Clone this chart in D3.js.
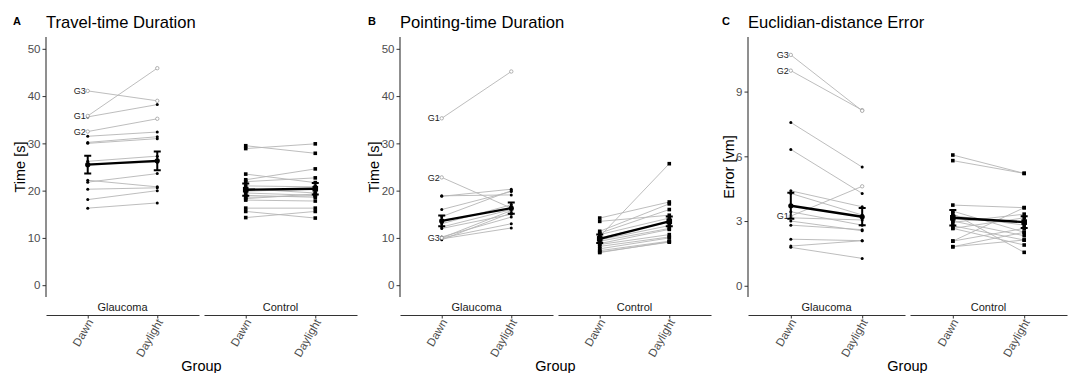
<!DOCTYPE html>
<html>
<head>
<meta charset="utf-8">
<script src="https://cdn.jsdelivr.net/npm/d3@7"></script>
<style>
  body { margin: 0; background: #fff; }
  text { font-family: "Liberation Sans", Arial, sans-serif; }
</style>
</head>
<body>
<svg id="chart" width="1072" height="373"></svg>
<script>
const conditions = ["Dawn", "Daylight"];
const groups = ["Glaucoma", "Control"];
const gLabels = ["G1", "G2", "G3"];

// [dawn, daylight] per subject
const travelLabelled = [[35.8, 45.9], [32.5, 35.2], [41.1, 39.0]];
const travelGlaucoma = [[35.6, 38.2], [31.5, 32.4], [30.2, 31.4], [30.0, 31.0], [26.2, 27.3], [25.6, 26.0],
  [22.2, 20.8], [21.8, 23.6], [20.3, 20.6], [18.1, 20.0], [16.3, 17.4]];
const travelControl = [[29.5, 27.9], [28.9, 29.9], [23.5, 21.7], [22.3, 24.6], [21.9, 22.7], [21.0, 20.8],
  [20.4, 19.5], [19.9, 20.3], [19.5, 19.0], [19.0, 18.6], [18.6, 18.9], [18.3, 19.3], [18.0, 17.8],
  [16.3, 16.3], [15.6, 14.2], [14.3, 15.6]];
const travelMeanG = [25.5, 26.3], travelErrG = [1.9, 2.0];
const travelMeanC = [20.2, 20.4], travelErrC = [1.3, 1.2];

const pointLabelled = [[35.3, 45.2], [22.8, 16.3], [10.0, 15.8]];
const pointGlaucoma = [[18.9, 19.1], [18.8, 20.3], [16.0, 19.8], [14.5, 20.0], [13.0, 17.0], [12.3, 16.0],
  [12.0, 15.0], [10.2, 14.4], [10.0, 13.0], [9.8, 12.1], [9.6, 15.3]];
const pointControl = [[10.3, 25.7], [14.2, 17.6], [13.5, 14.8], [11.4, 17.2], [11.0, 16.0], [10.7, 14.2],
  [10.0, 13.4], [9.6, 12.6], [9.3, 12.0], [8.8, 11.8], [8.6, 10.7], [8.2, 10.2], [7.7, 10.0],
  [7.3, 9.3], [7.0, 9.1], [6.9, 9.2]];
const pointMeanG = [13.6, 16.3], pointErrG = [1.15, 1.2];
const pointMeanC = [9.8, 13.5], pointErrC = [0.9, 1.05];

const errorLabelled = [[3.23, 4.61], [9.97, 8.14], [10.70, 8.11]];
const errorGlaucoma = [[7.57, 5.50], [6.32, 4.28], [4.40, 3.66], [4.28, 3.28], [3.43, 2.81], [3.15, 3.05],
  [3.00, 2.55], [2.81, 2.60], [2.16, 2.09], [1.84, 2.09], [1.78, 1.27]];
const errorControl = [[6.06, 5.21], [5.80, 5.21], [3.74, 3.62], [3.46, 2.48], [3.35, 1.55], [3.25, 2.81],
  [3.12, 2.94], [3.00, 2.32], [2.94, 3.32], [2.78, 2.12], [2.66, 1.89], [2.66, 3.15], [2.07, 3.62],
  [2.07, 2.66], [1.81, 2.12], [1.81, 2.48]];
const errorMeanG = [3.71, 3.20], errorErrG = [0.6, 0.4];
const errorMeanC = [3.15, 2.95], errorErrC = [0.36, 0.27];

const timeTicks = [0, 10, 20, 30, 40, 50];
const errorTicks = [0, 3, 6, 9];

const panels = [
  { tag: "A", title: "Travel-time Duration", yTitle: "Time [s]", left: 46, facetW: 153, gap: 5, tagX: 13, yTitleX: 24.5,
    domain: [-2.5, 52.5], ticks: timeTicks, labelled: travelLabelled, glaucoma: travelGlaucoma, control: travelControl,
    meanG: travelMeanG, errG: travelErrG, meanC: travelMeanC, errC: travelErrC },
  { tag: "B", title: "Pointing-time Duration", yTitle: "Time [s]", left: 400, facetW: 153, gap: 5, tagX: 368, yTitleX: 379,
    domain: [-2.5, 52.5], ticks: timeTicks, labelled: pointLabelled, glaucoma: pointGlaucoma, control: pointControl,
    meanG: pointMeanG, errG: pointErrG, meanC: pointMeanC, errC: pointErrC },
  { tag: "C", title: "Euclidian-distance Error", yTitle: "Error [vm]", left: 748, facetW: 157, gap: 5, tagX: 722, yTitleX: 733.5,
    domain: [-0.52, 11.53], ticks: errorTicks, labelled: errorLabelled, glaucoma: errorGlaucoma, control: errorControl,
    meanG: errorMeanG, errG: errorErrG, meanC: errorMeanC, errC: errorErrC }
];

const svg = d3.select("#chart");
const plotTop = 37, plotBottom = 297, axisY = 315;
const axisColor = "#333";
const textGrey = "#4d4d4d";
const lineGrey = "#b5b5b5";

panels.forEach(p => {
  const g = svg.append("g");
  const yScale = d3.scaleLinear().domain(p.domain).range([plotBottom, plotTop]);
  const facetX = groups.map((grp, i) => {
    const x0 = p.left + i * (p.facetW + p.gap);
    return d3.scalePoint().domain(conditions).range([x0, x0 + p.facetW]).padding(0.6);
  });

  // tag + title
  g.append("text").attr("x", p.tagX).attr("y", 25).attr("font-size", "11px").attr("font-weight", "bold")
    .attr("fill", "#000").text(p.tag);
  g.append("text").attr("x", p.left).attr("y", 28).attr("font-size", "16.6px").attr("fill", "#000").text(p.title);

  // y axis
  const yAxis = g.append("g")
    .attr("transform", `translate(${p.left},0)`)
    .call(d3.axisLeft(yScale).tickValues(p.ticks).tickSize(3.5).tickPadding(2).tickSizeOuter(0));
  yAxis.select(".domain").attr("stroke", axisColor).attr("stroke-width", 1.1)
    .attr("d", `M0,${plotTop}V${plotBottom}`);
  yAxis.selectAll(".tick line").attr("stroke", axisColor);
  yAxis.selectAll(".tick text").attr("fill", textGrey).attr("font-size", "11.5px")
    .attr("font-family", "Liberation Sans, Arial, sans-serif");

  g.append("text")
    .attr("transform", `translate(${p.yTitleX},${(plotTop + plotBottom) / 2}) rotate(-90)`)
    .attr("text-anchor", "middle").attr("font-size", "14.5px").attr("fill", "#000").text(p.yTitle);

  // facet strips + x axes
  groups.forEach((grp, i) => {
    const xs = facetX[i];
    const [r0, r1] = xs.range();
    g.append("text").attr("x", (r0 + r1) / 2).attr("y", 310.5).attr("text-anchor", "middle")
      .attr("font-size", "11px").attr("fill", "#1a1a1a").text(grp);
    const xAxis = g.append("g")
      .attr("transform", `translate(0,${axisY})`)
      .call(d3.axisBottom(xs).tickSize(3.5).tickSizeOuter(0).tickFormat(""));
    xAxis.select(".domain").attr("stroke", axisColor).attr("stroke-width", 1.1);
    xAxis.selectAll(".tick line").attr("stroke", axisColor);
    conditions.forEach(c => {
      g.append("text")
        .attr("transform", `translate(${xs(c) + 6},${axisY + 7}) rotate(-60)`)
        .attr("text-anchor", "end").attr("font-size", "11.5px").attr("fill", textGrey).text(c);
    });
  });

  g.append("text").attr("x", p.left + (2 * p.facetW + p.gap) / 2).attr("y", 371)
    .attr("text-anchor", "middle").attr("font-size", "14.5px").attr("fill", "#000").text("Group");

  const line = xs => d3.line().x((d, i) => xs(conditions[i])).y(d => yScale(d));

  // individual lines
  const xG = facetX[0], xC = facetX[1];
  [[p.glaucoma, xG], [p.labelled, xG], [p.control, xC]].forEach(([rows, xs]) => {
    g.append("g").selectAll("path").data(rows).join("path")
      .attr("d", line(xs)).attr("fill", "none").attr("stroke", lineGrey).attr("stroke-width", 0.9);
  });

  // individual points
  p.glaucoma.forEach(row => {
    g.append("g").selectAll("circle").data(row).join("circle")
      .attr("cx", (d, i) => xG(conditions[i])).attr("cy", d => yScale(d)).attr("r", 1.5).attr("fill", "#000");
  });
  p.labelled.forEach((row, k) => {
    g.append("g").selectAll("circle").data(row).join("circle")
      .attr("cx", (d, i) => xG(conditions[i])).attr("cy", d => yScale(d)).attr("r", 1.7)
      .attr("fill", "#fff").attr("stroke", "#a0a0a0").attr("stroke-width", 0.8);
    g.append("text").attr("x", xG(conditions[0]) - 2).attr("y", yScale(row[0])).attr("dy", "0.35em")
      .attr("text-anchor", "end").attr("font-size", "9px").attr("fill", "#222").text(gLabels[k]);
  });
  p.control.forEach(row => {
    g.append("g").selectAll("rect").data(row).join("rect")
      .attr("x", (d, i) => xC(conditions[i]) - 1.8).attr("y", d => yScale(d) - 1.8)
      .attr("width", 3.6).attr("height", 3.6).attr("fill", "#000");
  });

  // means with error bars
  [[p.meanG, p.errG, xG, "circle"], [p.meanC, p.errC, xC, "square"]].forEach(([mean, err, xs, shape]) => {
    g.append("path").datum(mean).attr("d", line(xs)).attr("fill", "none")
      .attr("stroke", "#000").attr("stroke-width", 2.4);
    mean.forEach((m, i) => {
      const x = xs(conditions[i]);
      const y0 = yScale(m - err[i]), y1 = yScale(m + err[i]);
      g.append("path").attr("d", `M${x},${y0}V${y1}M${x - 3.5},${y0}H${x + 3.5}M${x - 3.5},${y1}H${x + 3.5}`)
        .attr("stroke", "#000").attr("stroke-width", 2).attr("fill", "none");
      if (shape === "circle") {
        g.append("circle").attr("cx", x).attr("cy", yScale(m)).attr("r", 2.6).attr("fill", "#000");
      } else {
        g.append("rect").attr("x", x - 2.8).attr("y", yScale(m) - 2.8).attr("width", 5.6).attr("height", 5.6).attr("fill", "#000");
      }
    });
  });
});
</script>
</body>
</html>
